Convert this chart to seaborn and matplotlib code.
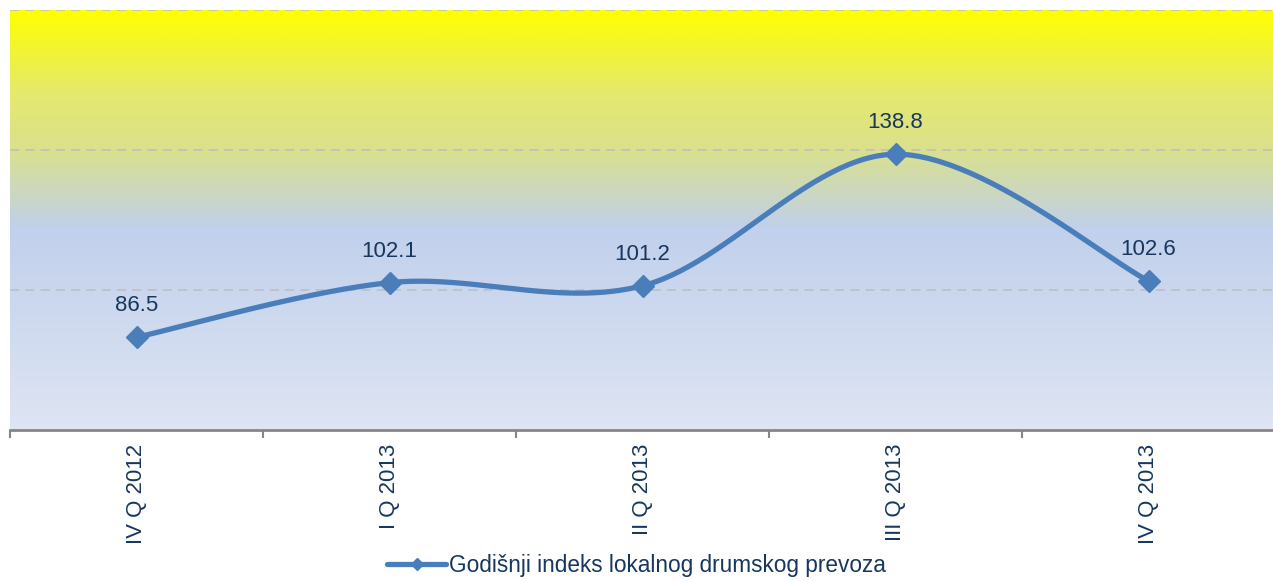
import numpy as np
import pandas as pd
import matplotlib
matplotlib.use("Agg")
import matplotlib.pyplot as plt
from matplotlib.colors import LinearSegmentedColormap
from matplotlib.lines import Line2D
import seaborn as sns

categories = ["IV Q 2012", "I Q 2013", "II Q 2013", "III Q 2013", "IV Q 2013"]
values = [86.5, 102.1, 101.2, 138.8, 102.6]
series_name = "Godišnji indeks lokalnog drumskog prevoza"
y_ticks = [60, 100, 140, 180]

LINE = "#4A7EBB"
TEXT = "#17375E"

sns.set_theme(style="white")
plt.rcParams["font.family"] = ["Liberation Sans", "DejaVu Sans"]

fig = plt.figure(figsize=(12.73, 5.81), dpi=100)
ax = fig.add_axes([10 / 1273, 151 / 581, 1265 / 1273, 420 / 581])

# gradient background
cmap = LinearSegmentedColormap.from_list(
    "bg",
    [
        (0.0, (1.0, 1.0, 0.0)),
        (0.2, (228 / 255, 233 / 255, 110 / 255)),
        (0.33, (218 / 255, 225 / 255, 140 / 255)),
        (0.45, (202 / 255, 214 / 255, 200 / 255)),
        (0.52, (193 / 255, 208 / 255, 236 / 255)),
        (1.0, (222 / 255, 229 / 255, 243 / 255)),
    ],
)
grad = np.linspace(0, 1, 512).reshape(-1, 1)
ax.imshow(grad, extent=[0, 1, 0, 1], transform=ax.transAxes, aspect="auto",
          cmap=cmap, zorder=0, interpolation="bilinear")

# smoothed line (Catmull-Rom style Bezier, like a spreadsheet smoothed line)
x = np.arange(len(values), dtype=float)
y = np.array(values, dtype=float)
pts = np.column_stack([x, y])
curve = []
n = len(pts)
for i in range(n - 1):
    p0 = pts[i - 1] if i > 0 else pts[i]
    p1 = pts[i]
    p2 = pts[i + 1]
    p3 = pts[i + 2] if i + 2 < n else pts[i + 1]
    b1 = p1 + (p2 - p0) / 6
    b2 = p2 - (p3 - p1) / 6
    t = np.linspace(0, 1, 60)[:, None]
    seg = ((1 - t) ** 3) * p1 + 3 * ((1 - t) ** 2) * t * b1 + 3 * (1 - t) * t ** 2 * b2 + t ** 3 * p2
    curve.append(seg if i == 0 else seg[1:])
curve = np.vstack(curve)
df_curve = pd.DataFrame({"x": curve[:, 0], "y": curve[:, 1]})
sns.lineplot(data=df_curve, x="x", y="y", sort=False, ax=ax, color=LINE,
             linewidth=3.8, zorder=3, legend=False)
ax.plot(x, y, linestyle="none", marker="D", markersize=11, color=LINE, zorder=4)

for xi, yi in zip(x, y):
    ax.annotate(f"{yi:.1f}", (xi, yi), xytext=(0, 15), textcoords="offset points",
                ha="center", va="bottom", fontsize=16, color=TEXT, zorder=5)

ax.set_xlim(-0.5, len(values) - 0.5)
ax.set_ylim(y_ticks[0], y_ticks[-1])
ax.set_yticks(y_ticks)
ax.set_yticklabels([])
ax.tick_params(axis="y", length=0)
for yt in y_ticks[1:]:
    ax.axhline(yt, color="#BDBDBD", linestyle=(0, (6, 4)), linewidth=1.1, zorder=1)

# category labels at centers, tick marks at boundaries
ax.set_xticks(x)
ax.set_xticklabels(categories, rotation=90, fontsize=16, color=TEXT)
ax.tick_params(axis="x", which="major", length=0, pad=10)
ax.set_xticks(np.arange(-0.5, len(values), 1.0), minor=True)
ax.tick_params(axis="x", which="minor", length=6, width=1.5, color="#868686", direction="out")
ax.xaxis.set_tick_params(which="minor", bottom=True)

for side in ["top", "right", "left"]:
    ax.spines[side].set_visible(False)
ax.spines["bottom"].set_color("#868686")
ax.spines["bottom"].set_linewidth(2)
ax.spines["bottom"].set_zorder(6)
ax.set_xlabel("")
ax.set_ylabel("")

handle = Line2D([], [], color=LINE, linewidth=3.8, marker="D", markersize=6)
fig.legend([handle], [series_name], loc="lower center", bbox_to_anchor=(0.5, -0.028),
           frameon=False, fontsize=16.3, handlelength=2.6, handletextpad=0.1,
           labelcolor=TEXT)

fig.savefig("out.png", dpi=100)
